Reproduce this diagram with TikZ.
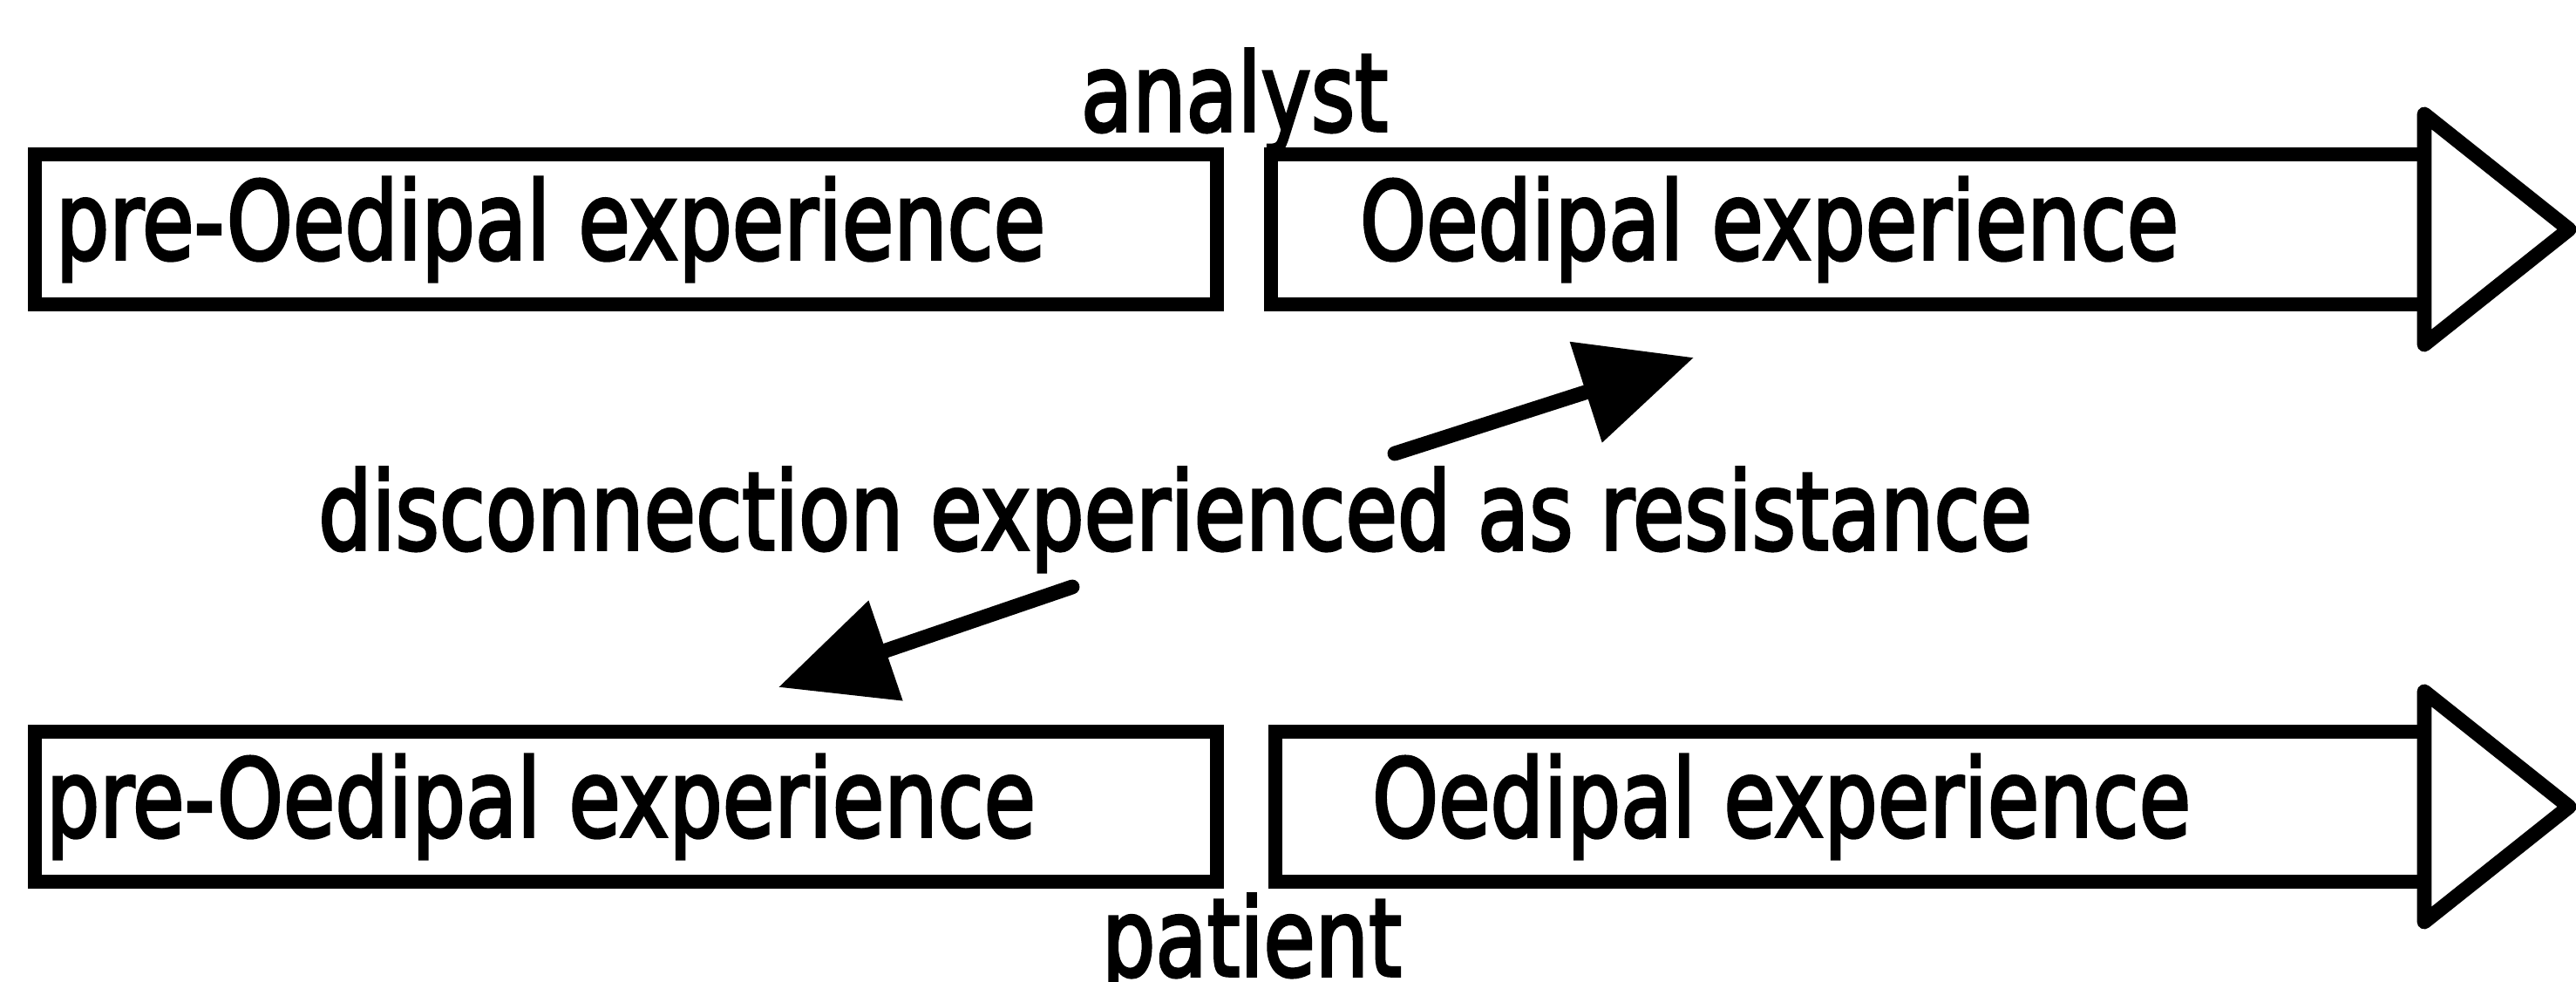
\documentclass[tikz,border=0pt]{standalone}
\usepackage{fontspec}
\setmainfont{DejaVu Sans}[FakeBold=3]
\usepackage{graphicx}
\usetikzlibrary{arrows.meta,positioning,calc}
\newcommand{\tallText}[1]{\scalebox{1}[1.28]{#1}}
\tikzstyle{stageBox} = [rectangle, draw=black, line width=4.8pt, outer sep=0pt, inner ysep=0pt, minimum height=1.72cm, align=left, font=\fontsize{27.5}{33}\selectfont]
\tikzstyle{labelNode} = [font=\fontsize{27.5}{33}\selectfont, inner sep=0pt, anchor=base]
\tikzstyle{headLine} = [draw=black, line width=4.8pt, line join=round]
\tikzstyle{pointer} = [line width=4.8pt, line cap=round, -{Triangle[length=1.3cm,width=1.17cm]}]
\begin{document}
\begin{tikzpicture}
  \useasboundingbox (0,0) rectangle (29.55,11.25);
  % analyst row
  \node (preA) [stageBox, text width=13.08cm, inner xsep=0.24cm] at (7.18,8.62) {\tallText{pre-Oedipal experience}};
  \node (oedA) [stageBox, text width=11.19cm, inner xsep=1.02cm, right=0.62cm of preA] {\tallText{Oedipal experience}};
  % patient row
  \node (preB) [stageBox, text width=13.30cm, inner xsep=0.13cm] at (7.18,2.0) {\tallText{pre-Oedipal experience}};
  \node (oedB) [stageBox, text width=10.96cm, inner xsep=1.11cm, right=0.67cm of preB] {\tallText{Oedipal experience}};

  \foreach \b in {oedA,oedB}
    \draw [headLine] ($(\b.east)+(0,1.32)$) -- ($(\b.east)+(1.66,0)$) -- ($(\b.east)+(0,-1.32)$) -- cycle;

  \node (analyst) [labelNode] at (14.16,9.75) {\tallText{analyst}};
  \node (res) [labelNode] at (13.48,4.95) {\tallText{disconnection experienced as resistance}};
  \node (patient) [labelNode] at (14.36,0.06) {\tallText{patient}};

  \coordinate (tailUp) at (16.00,6.05);
  \coordinate (tipUp) at (19.43,7.15);
  \coordinate (tailDown) at (12.30,4.52);
  \coordinate (tipDown) at (8.93,3.37);

  \draw [pointer] (tailUp) -- (tipUp);
  \draw [pointer] (tailDown) -- (tipDown);
\end{tikzpicture}
\end{document}
